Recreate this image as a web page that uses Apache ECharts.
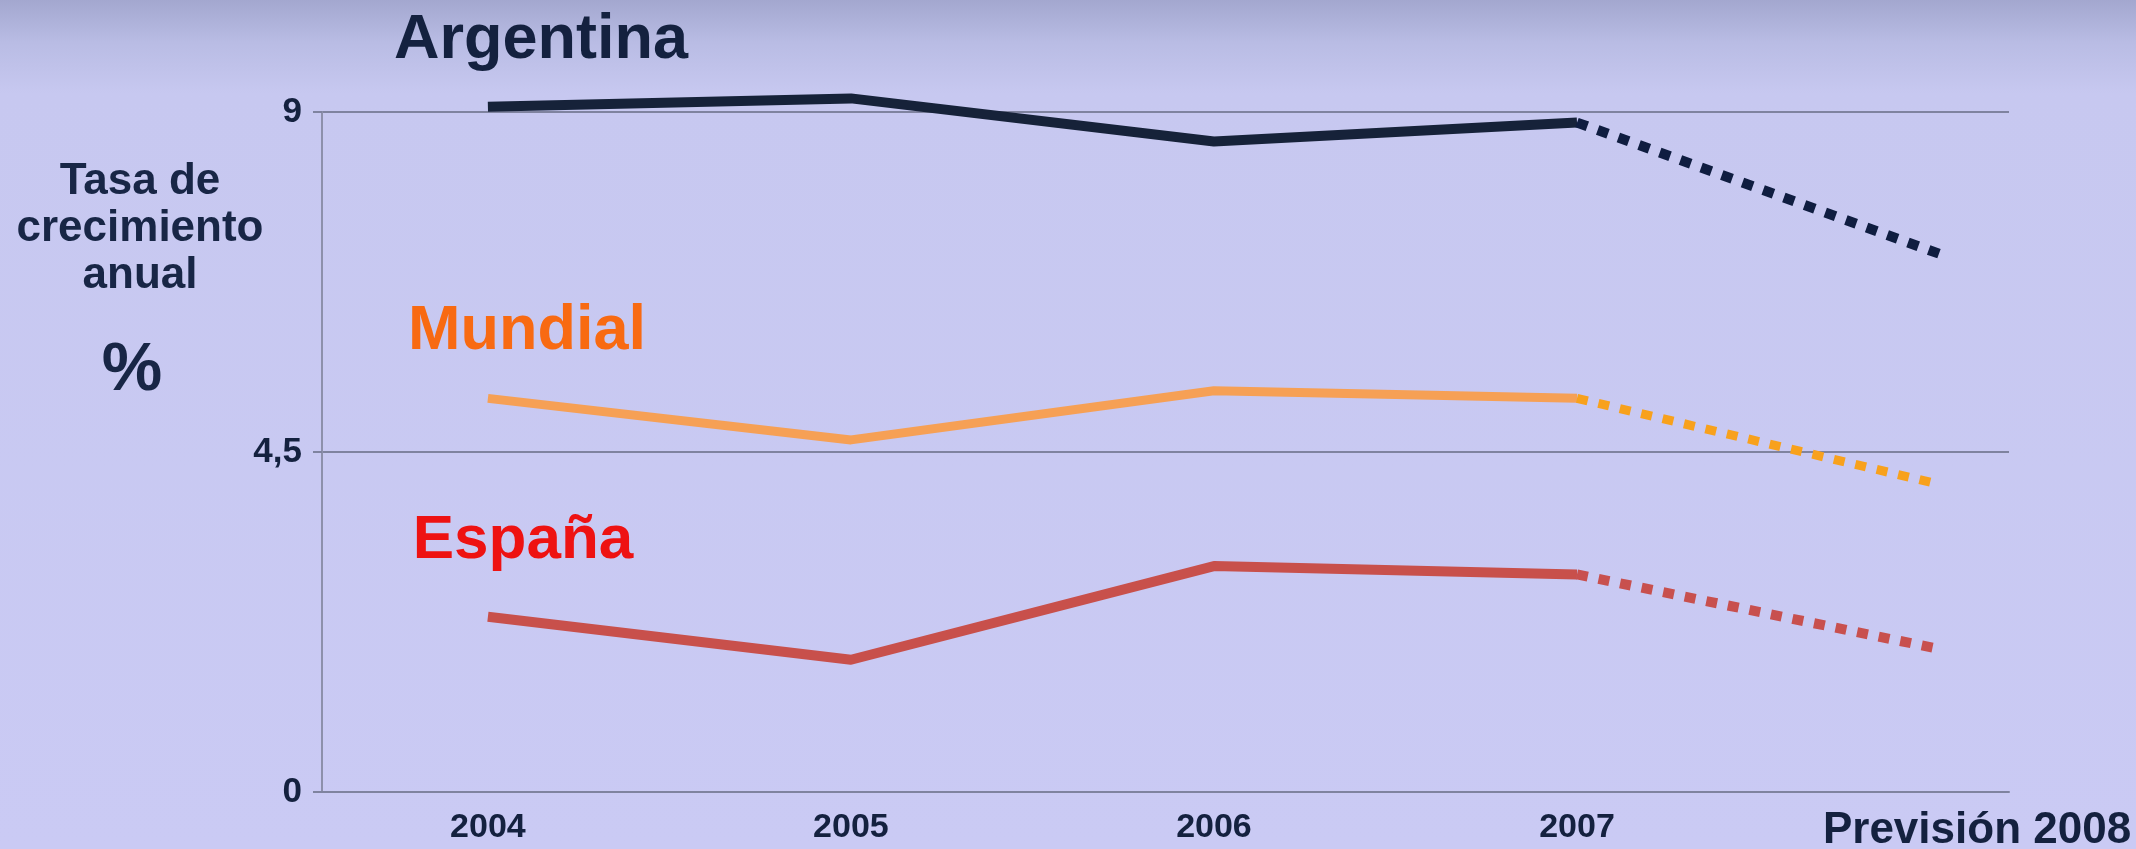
<!DOCTYPE html>
<html>
<head>
<meta charset="utf-8">
<script src="https://cdn.jsdelivr.net/npm/echarts@6/dist/echarts.min.js"></script>
<style>
html,body{margin:0;padding:0;width:2136px;height:849px;overflow:hidden;}
#c{width:2136px;height:849px;}
</style>
</head>
<body>
<div id="c"></div>
<script>
// ---- data ----
const categories = ['2004', '2005', '2006', '2007', 'Previsión 2008'];
const argentina = [9.07, 9.18, 8.61, 8.86, 7.12];
const mundial = [5.21, 4.66, 5.31, 5.21, 4.07];
const espana = [2.32, 1.75, 2.99, 2.88, 1.89];
const yTicks = [0, 4.5, 9];
const forecastFrom = 3; // last actual year index (2007), forecast line starts here

const chart = echarts.init(document.getElementById('c'), null, {renderer: 'canvas'});

function solid(vals) { return vals.slice(0, forecastFrom + 1).map((v, i) => [i, v]); }
function dashed(vals) { return vals.slice(forecastFrom).map((v, i) => [i + forecastFrom, v]); }

const FONT = 'Liberation Sans, Arial, sans-serif';
const NAVY = '#14213f';

function lineSeries(name, data, color, width, dash) {
  return {
    name: name, type: 'line', data: data, symbol: 'none', silent: true, clip: false,
    lineStyle: {color: color, width: width, type: dash ? [11, 11] : 'solid', cap: 'butt', join: 'round'},
    z: 3
  };
}

const option = {
  animation: false,
  backgroundColor: {
    type: 'linear', x: 0, y: 0, x2: 0, y2: 1,
    colorStops: [
      {offset: 0, color: '#a3a7cf'},
      {offset: 0.05, color: '#b9bce4'},
      {offset: 0.11, color: '#c7c8f0'},
      {offset: 1, color: '#cacaf4'}
    ]
  },
  grid: {left: 322, top: 112, width: 1687, height: 680, containLabel: false, outerBoundsMode: 'none'},
  xAxis: {
    type: 'value', min: -0.457, max: 4.19,
    axisLine: {show: true, onZero: false, lineStyle: {color: '#7f839f', width: 2}},
    axisTick: {show: false},
    splitLine: {show: false},
    axisLabel: {
      customValues: categories.map((c, i) => i),
      margin: 6,
      formatter: function (v) {
        const i = Math.round(v);
        return i === categories.length - 1 ? '{p|' + categories[i] + '}' : '{y|' + categories[i] + '}';
      },
      rich: {
        y: {fontFamily: FONT, fontWeight: 'bold', fontSize: 34, color: NAVY, padding: [13, 0, 0, 0]},
        p: {fontFamily: FONT, fontWeight: 'bold', fontSize: 44, color: NAVY, padding: [11, 0, 0, 74]}
      }
    }
  },
  yAxis: {
    type: 'value', min: yTicks[0], max: yTicks[yTicks.length - 1], interval: yTicks[1] - yTicks[0],
    axisLine: {show: true, onZero: false, lineStyle: {color: '#8d90ab', width: 2}},
    axisTick: {show: true, inside: false, length: 9, lineStyle: {color: '#7f839f', width: 2}},
    splitLine: {show: true, lineStyle: {color: '#7f839f', width: 2}},
    axisLabel: {
      margin: 20, fontFamily: FONT, fontWeight: 'bold', fontSize: 35, color: NAVY,
      formatter: v => String(v).replace('.', ',')
    }
  },
  series: [
    lineSeries('Argentina', solid(argentina), '#162239', 10, false),
    lineSeries('Argentina previsión', dashed(argentina), '#0f1d40', 10, true),
    lineSeries('Mundial', solid(mundial), '#f6a055', 9, false),
    lineSeries('Mundial previsión', dashed(mundial), '#f8a11c', 9, true),
    lineSeries('España', solid(espana), '#c8504b', 10, false),
    lineSeries('España previsión', dashed(espana), '#c8504e', 10, true)
  ],
  graphic: [
    {type: 'text', x: 541, y: 41, silent: true,
     style: {text: 'Argentina', font: 'bold 63px ' + FONT, fill: NAVY, textAlign: 'center', textVerticalAlign: 'middle'}},
    {type: 'text', x: 527, y: 332, silent: true,
     style: {text: 'Mundial', font: 'bold 63px ' + FONT, fill: '#f86a12', textAlign: 'center', textVerticalAlign: 'middle'}},
    {type: 'text', x: 523, y: 541, silent: true,
     style: {text: 'España', font: 'bold 62px ' + FONT, fill: '#ee1212', textAlign: 'center', textVerticalAlign: 'middle'}},
    {type: 'text', x: 140, y: 229, silent: true,
     style: {text: 'Tasa de\ncrecimiento\nanual', font: 'bold 44px ' + FONT, lineHeight: 47, fill: '#182646', textAlign: 'center', textVerticalAlign: 'middle'}},
    {type: 'text', x: 132, y: 371, silent: true,
     style: {text: '%', font: 'bold 68px ' + FONT, fill: '#182646', textAlign: 'center', textVerticalAlign: 'middle'}}
  ]
};
chart.setOption(option);
</script>
</body>
</html>
